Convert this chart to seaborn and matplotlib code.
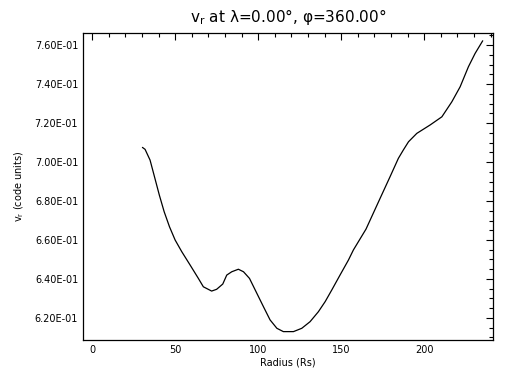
import matplotlib
matplotlib.use("Agg")
import matplotlib.pyplot as plt
import seaborn as sns
import pandas as pd
from matplotlib.ticker import MultipleLocator, FormatStrFormatter

# values
radius = [30.3, 31.9, 34.9, 37.3, 40.5, 43.4, 46.6, 50.0, 54.0, 59.0, 64.0, 67.0,
          72.0, 75.0, 78.7, 81.1, 84.1, 88.1, 91.2, 94.8, 99.2, 103.2, 107.2, 111.3,
          115.2, 121.3, 126.3, 131.3, 136.3, 140.4, 144.4, 149.4, 154.4, 157.4, 165.0,
          173.5, 179.5, 184.5, 187.5, 190.6, 195.6, 203.6, 210.7, 216.7, 221.7, 226.7,
          230.7, 235.3]
vr = [0.7075, 0.7065, 0.7010, 0.6933, 0.6830, 0.6745, 0.6668, 0.6600, 0.6540, 0.6472,
      0.6403, 0.6360, 0.6338, 0.6347, 0.6374, 0.6420, 0.6437, 0.6450, 0.6437, 0.6403,
      0.6327, 0.6258, 0.6190, 0.6147, 0.6130, 0.6130, 0.6147, 0.6181, 0.6232, 0.6284,
      0.6344, 0.6421, 0.6497, 0.6549, 0.6656, 0.6814, 0.6925, 0.7019, 0.7062, 0.7104,
      0.7147, 0.7190, 0.7232, 0.7309, 0.7386, 0.7489, 0.7557, 0.7622]

df = pd.DataFrame({"radius": radius, "vr": vr})

sns.set_style("white")
plt.rcParams['font.family'] = ['DejaVu Sans']
plt.rcParams['mathtext.default'] = 'regular'
plt.rcParams['text.color'] = 'black'
plt.rcParams['axes.labelcolor'] = 'black'

fig = plt.figure(figsize=(5.12, 3.84), dpi=100)
ax = fig.add_axes([0.1621, 0.1146, 0.8008, 0.7995])

sns.lineplot(data=df, x="radius", y="vr", sort=False, color="black",
             linewidth=0.9, ax=ax)

ax.set_xlim(-5.5, 241.5)
ax.set_ylim(0.6087, 0.7662)

# IDL-like axes: ticks on every side, pointing in
ax.xaxis.set_major_locator(MultipleLocator(50))
ax.xaxis.set_minor_locator(MultipleLocator(10))
ax.yaxis.set_major_locator(MultipleLocator(0.02))
ax.yaxis.set_minor_locator(MultipleLocator(0.005))
ax.yaxis.set_major_formatter(FormatStrFormatter("%.2E"))
ax.tick_params(which="both", direction="in", top=True, right=True,
               colors="black", labelsize=7, width=0.8)
ax.tick_params(which="major", length=5)
ax.tick_params(which="minor", length=3)
for s in ax.spines.values():
    s.set_color("black")
    s.set_linewidth(0.9)

ax.set_xlabel("Radius (Rs)", fontsize=7, labelpad=2)
ax.set_ylabel("v$_r$ (code units)", fontsize=7, labelpad=6)
ax.set_title("v$_r$ at λ=0.00°, φ=360.00°", fontsize=11, pad=8, color="black")

fig.savefig("out.png", dpi=100, facecolor="white")
